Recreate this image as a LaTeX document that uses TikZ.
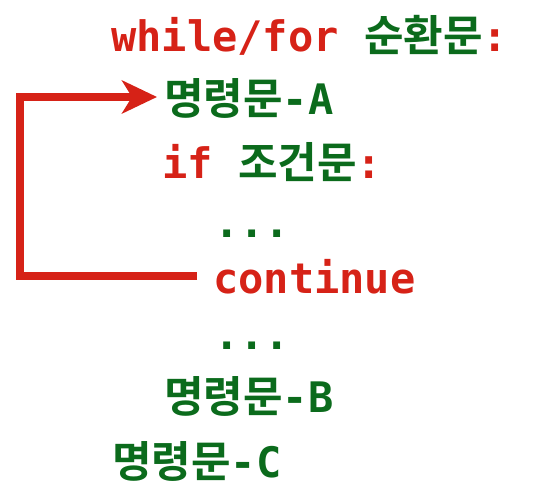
\documentclass[tikz,border=0pt]{standalone}
\usepackage{fontspec}
\setmonofont{DejaVu Sans Mono}
\newfontfamily\krfont{Noto Sans CJK KR}[BoldFont={* Bold}]
\usepackage{tikz}
\usetikzlibrary{arrows.meta}
\definecolor{kwred}{HTML}{D62217}
\definecolor{kogreen}{HTML}{0B6B1C}
\newcommand\kwd[1]{\textcolor{kwred}{#1}}
\newcommand\grn[1]{\textcolor{kogreen}{#1}}
\newcommand\krt[1]{{\krfont\bfseries\fontsize{43}{50}\selectfont\textcolor{kogreen}{#1}}}
\tikzstyle{code}=[anchor=base west,inner sep=0pt,font=\ttfamily\bfseries\fontsize{42}{50}\selectfont]
\tikzstyle{jump}=[draw=kwred,line width=8.5pt,-{Stealth[length=35pt,width=33pt,inset=10pt]}]

\begin{document}
\begin{tikzpicture}[x=1pt,y=-1pt]
        \useasboundingbox (0,0) rectangle (540,496);
        \node[code] (l1) at (111,51) {\kwd{while/for} \krt{순환문}\kwd{:}};
        \node[code] (l2) at (164,114) {\krt{명령문}\grn{-A}};
        \node[code] (l3) at (162,178) {\kwd{if} \krt{조건문}\kwd{:}};
        \node[code] (l4) at (214,237) {\grn{...}};
        \node[code] (l5) at (213,293) {\kwd{continue}};
        \node[code] (l6) at (214,349) {\grn{...}};
        \node[code] (l7) at (164,412) {\krt{명령문}\grn{-B}};
        \node[code] (l8) at (112,477) {\krt{명령문}\grn{-C}};
        % continue jumps back to the top of the loop
        \draw[jump] ([xshift=-16pt]l5.west) -| ([xshift=-144pt,yshift=1pt]l2.west) -- ([xshift=-7pt,yshift=1pt]l2.west);
      \end{tikzpicture}
\end{document}
